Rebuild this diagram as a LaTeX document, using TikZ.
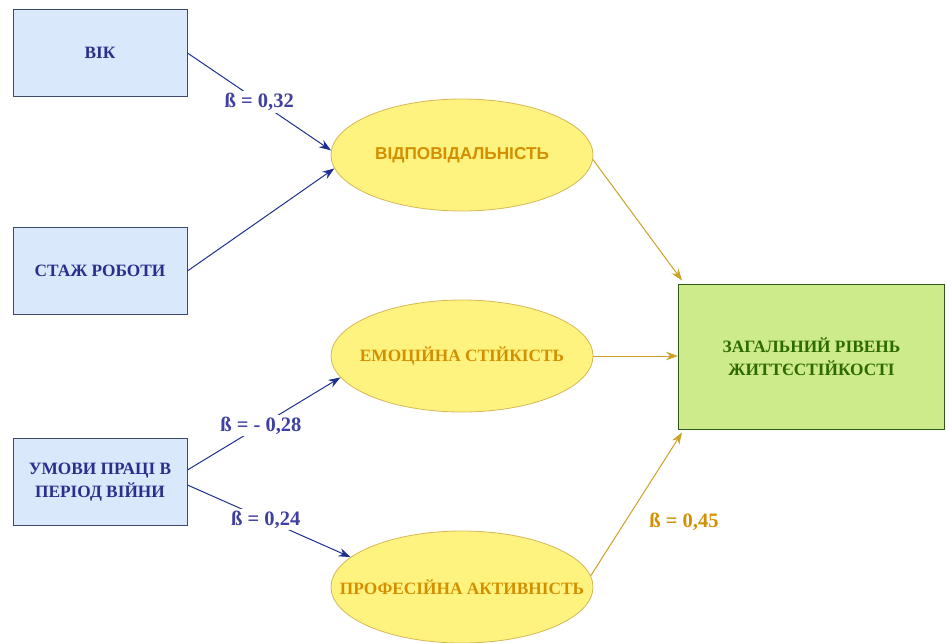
\documentclass[tikz,border=0pt]{standalone}
\usepackage{fontspec}
\setmainfont{Liberation Serif}
\newfontfamily\arialfont{Liberation Sans}
\usetikzlibrary{arrows.meta,shapes.geometric,calc}
\definecolor{boxfill}{HTML}{DAE8FC}
\definecolor{boxline}{HTML}{3C4A6E}
\definecolor{boxtext}{HTML}{2B2E8C}
\definecolor{labblue}{HTML}{4040A0}
\definecolor{arrblue}{HTML}{1F2F8F}
\definecolor{ellfill}{HTML}{FFF380}
\definecolor{ellline}{HTML}{D6B656}
\definecolor{elltext}{HTML}{D48F00}
\definecolor{arrgold}{HTML}{C9A227}
\definecolor{grnfill}{HTML}{CDEB8B}
\definecolor{grnline}{HTML}{2D5A1B}
\definecolor{grntext}{HTML}{2D6A00}
\tikzset{
  fnt/.style={font=\fontsize{17.3}{23}\selectfont\bfseries},
  labfnt/.style={font=\fontsize{20.5}{24}\selectfont\bfseries},
  inbox/.style={draw=boxline, fill=boxfill, line width=0.9pt, minimum width=174pt, minimum height=87pt, inner sep=0pt, text=boxtext, fnt, align=center},
  latent/.style={ellipse, draw=ellline, fill=ellfill, line width=0.8pt, minimum width=262pt, minimum height=112pt, inner sep=0pt},
  lattext/.style={text=elltext, fnt, inner sep=0pt},
  outbox/.style={draw=grnline, fill=grnfill, line width=0.9pt, minimum width=266pt, minimum height=145pt, inner sep=0pt, text=grntext, fnt, align=center},
  bluearr/.style={draw=arrblue, line width=1pt, -{Stealth[length=12pt,width=8.5pt]}},
  goldarr/.style={draw=arrgold, line width=1pt, -{Stealth[length=12pt,width=8.5pt]}},
  blab/.style={fill=white, text=labblue, labfnt, inner sep=2pt},
}
\begin{document}
\begin{tikzpicture}[x=1pt,y=-1pt]
\useasboundingbox (0,0) rectangle (946,643);
\node[inbox] (vik) at (100,53) {ВІК};
\node[inbox] (stazh) at (100,271) {СТАЖ РОБОТИ};
\node[inbox] (umovy) at (100,482) {УМОВИ ПРАЦІ В\\ПЕРІОД ВІЙНИ};
\node[latent, label={[lattext, name=vidpt, font=\fontsize{17.2}{20}\selectfont\bfseries\arialfont]center:ВІДПОВІДАЛЬНІСТЬ}] (vidp) at (462,155) {};
\node[latent, label={[lattext, name=emoct]center:ЕМОЦІЙНА СТІЙКІСТЬ}] (emoc) at (462,356) {};
\node[latent, label={[lattext, name=proft]center:ПРОФЕСІЙНА АКТИВНІСТЬ}] (prof) at (462,587) {};
\node[outbox] (zag) at (811.5,356.5) {ЗАГАЛЬНИЙ РІВЕНЬ\\ЖИТТЄСТІЙКОСТІ};

\draw[bluearr] (vik.east) -- node[blab, pos=0.5] {ß = 0,32} (vidp.178);
\draw[bluearr] (stazh.east) -- (vidp.186);
\draw[bluearr] ([yshift=12pt]umovy.east) -- node[blab, pos=0.48] {ß = - 0,28} (emoc.190);
\draw[bluearr] ([yshift=-3pt]umovy.east) -- node[blab, pos=0.48] {ß = 0,24} (prof.165);

\draw[goldarr] (vidp.-2) -- ([xshift=4pt,yshift=3pt]zag.north west);
\draw[goldarr] (emoc.east) -- (zag.west |- emoc.east);
\draw[goldarr] (prof.5) -- ([xshift=4pt,yshift=-3pt]zag.south west);
\node[text=elltext, labfnt] (lab45) at (684,522) {ß = 0,45};
\end{tikzpicture}
\end{document}
